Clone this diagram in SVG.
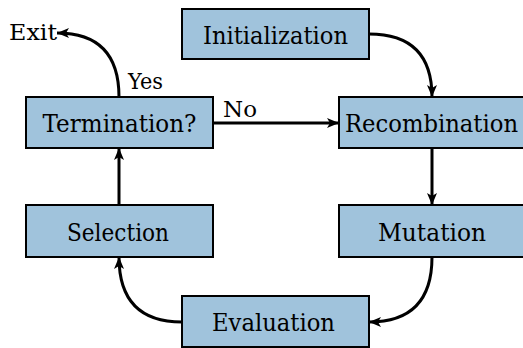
<svg xmlns="http://www.w3.org/2000/svg" width="523" height="348" viewBox="0 0 523 348">
<defs>
<style>
.box{fill:#a0c3dc;stroke:#000;stroke-width:2}
.nt{font-family:"DejaVu Serif",serif;font-size:25px;fill:#000;text-anchor:middle}
.lbl{font-family:"DejaVu Serif",serif;font-size:23px;fill:#000}
.c{fill:none;stroke:#000;stroke-width:3;marker-end:url(#ah)}
</style>
<marker id="ah" markerUnits="userSpaceOnUse" viewBox="0 0 12 10" refX="12" refY="5" markerWidth="12" markerHeight="10" orient="auto">
<path d="M0,0 L12,5 L0,10 L3,5 Z" fill="#000"/>
</marker>
</defs>
<g id="connectors">
<path class="c" d="M369,34 Q432,34 432,97"/>
<path class="c" d="M432,148 L432,205"/>
<path class="c" d="M432,257 Q432,322 369,322"/>
<path class="c" d="M182,322 Q119,322 119,257"/>
<path class="c" d="M119,205 L119,148"/>
<path class="c" d="M213,123 L339,123"/>
<path class="c" d="M119,97 Q119,33 57,33"/>
<text class="lbl" x="223" y="117" textLength="34" lengthAdjust="spacingAndGlyphs">No</text>
<text class="lbl" x="128" y="89" textLength="35" lengthAdjust="spacingAndGlyphs">Yes</text>
<text class="lbl" x="9" y="40" textLength="48" lengthAdjust="spacingAndGlyphs">Exit</text>
</g>
<g id="initialization"><rect class="box" x="182" y="9" width="187" height="50"/><text class="nt" x="275.5" y="44" textLength="145" lengthAdjust="spacingAndGlyphs">Initialization</text></g>
<g id="termination"><rect class="box" x="26" y="97" width="187" height="51"/><text class="nt" x="119.5" y="132" textLength="154" lengthAdjust="spacingAndGlyphs">Termination?</text></g>
<g id="recombination"><rect class="box" x="339" y="97" width="187" height="51"/><text class="nt" x="431.5" y="132" textLength="173" lengthAdjust="spacingAndGlyphs">Recombination</text></g>
<g id="selection"><rect class="box" x="26" y="205" width="187" height="52"/><text class="nt" x="118" y="241" textLength="102" lengthAdjust="spacingAndGlyphs">Selection</text></g>
<g id="mutation"><rect class="box" x="339" y="205" width="187" height="52"/><text class="nt" x="432" y="241" textLength="108" lengthAdjust="spacingAndGlyphs">Mutation</text></g>
<g id="evaluation"><rect class="box" x="182" y="296" width="187" height="51"/><text class="nt" x="273.5" y="331" textLength="123" lengthAdjust="spacingAndGlyphs">Evaluation</text></g>
</svg>
